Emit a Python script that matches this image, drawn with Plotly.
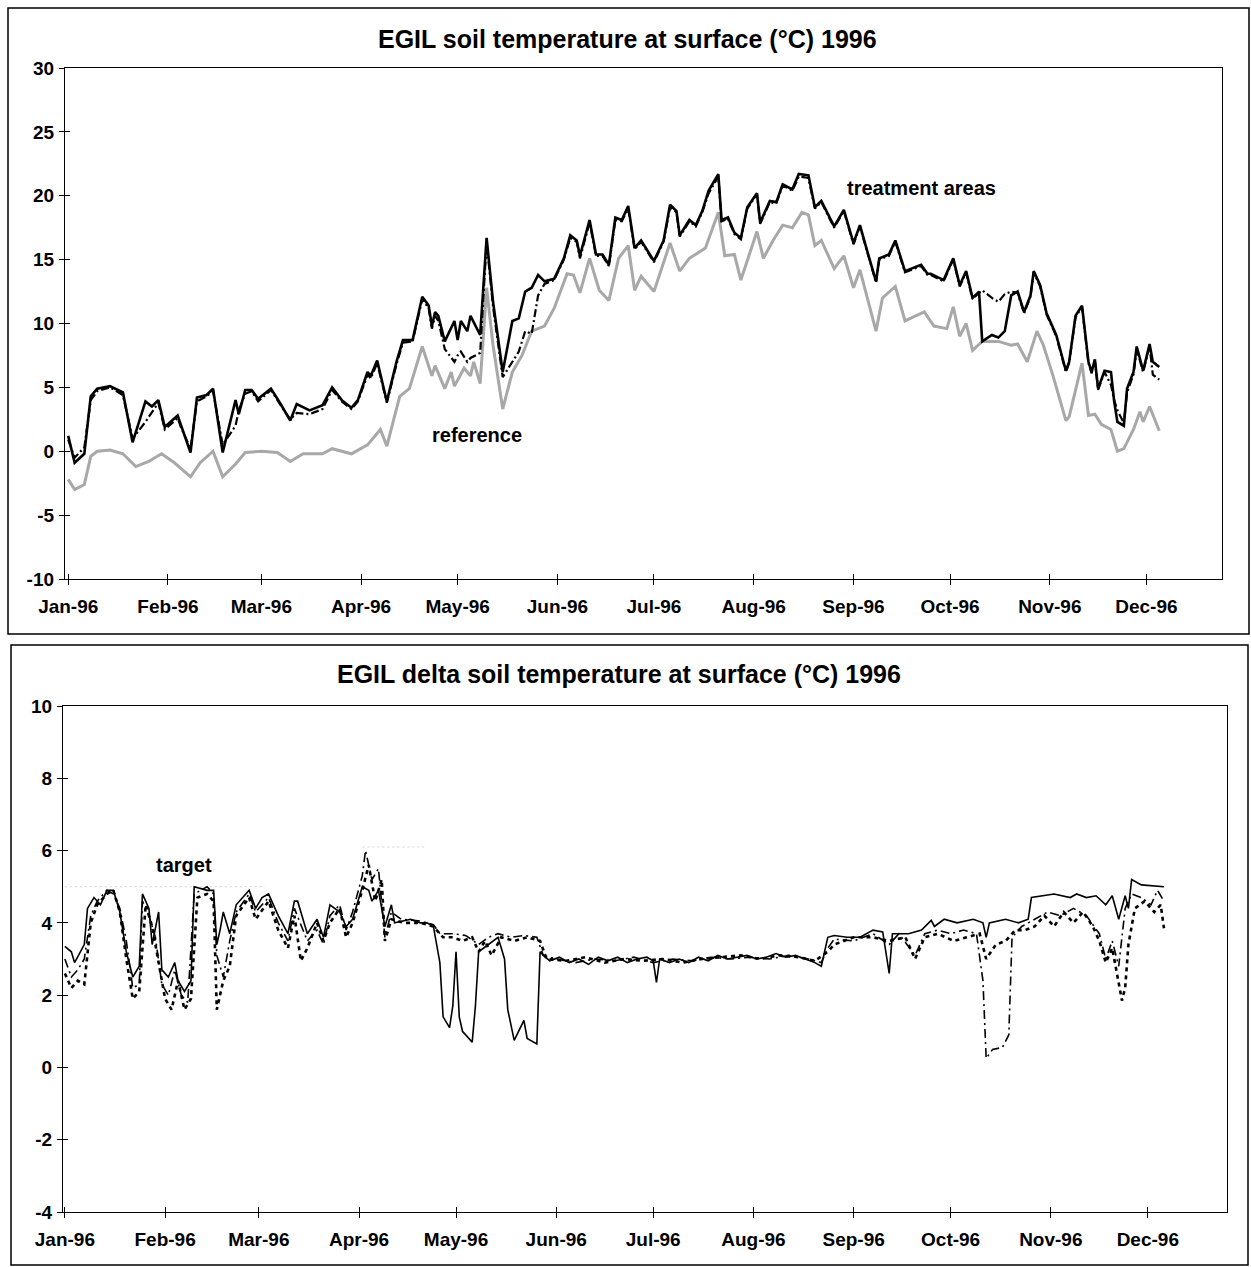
import pandas as pd
import plotly.graph_objects as go

W, H = 1251, 1267
BASE = pd.Timestamp("1996-01-01")

MONTH_TICKS = ["1996-%02d-01" % m for m in range(1, 13)]
MONTH_LABELS = ["Jan-96", "Feb-96", "Mar-96", "Apr-96", "May-96", "Jun-96",
                "Jul-96", "Aug-96", "Sep-96", "Oct-96", "Nov-96", "Dec-96"]
TOP_YTICKS = [-10, -5, 0, 5, 10, 15, 20, 25, 30]
BOT_YTICKS = [-4, -2, 0, 2, 4, 6, 8, 10]

# ---------------- top chart: soil temperature (deg C), day-of-year offsets ----------------
TOP_DAYS = [0, 2, 5, 7, 9, 13, 17, 20, 24, 26, 28, 30, 34, 35, 38, 40, 43, 45, 48, 52,
            53, 55, 57, 59, 63, 66, 69, 71, 75, 79, 82, 85, 88, 90, 93, 94, 96, 99, 102, 104,
            107, 110, 112, 113, 114, 115, 117, 120, 121, 122, 124, 125, 128, 130, 132, 135, 138, 140, 142, 144,
            146, 148, 151, 154, 156, 158, 159, 162, 164, 166, 168, 170, 172, 174, 176, 178, 182, 185, 187, 189,
            190, 193, 195, 197, 199, 202, 203, 205, 207, 209, 211, 214, 215, 218, 220, 222, 225, 227, 230, 232,
            234, 238, 241, 244, 246, 248, 251, 252, 255, 257, 260, 265, 267, 268, 272, 275, 277, 279, 281, 283,
            284, 287, 289, 291, 293, 295, 297, 299, 300, 302, 304, 307, 310, 311, 313, 315, 317, 318, 319, 320,
            322, 324, 325, 326, 328, 329, 331, 332, 334, 336, 337, 339]
TOP_TREAT_A = [1.2, -0.9, -0.2, 4.3, 4.9, 5.1, 4.6, 0.7, 3.9, 3.5, 4.0, 1.9, 2.8, 2.1, -0.1, 4.2, 4.4, 4.9, -0.1, 4.0,
               2.9, 4.8, 4.8, 4.1, 4.9, 3.7, 2.4, 3.7, 3.2, 3.6, 5.0, 4.0, 3.4, 4.0, 6.2, 5.9, 7.1, 3.9, 7.0, 8.7,
               8.7, 12.1, 11.4, 9.8, 10.9, 10.6, 8.6, 10.2, 8.7, 10.2, 9.4, 10.6, 9.1, 16.7, 11.7, 6.2, 10.2, 10.4, 12.5, 12.8,
               13.8, 13.3, 13.5, 15.1, 16.9, 16.5, 15.3, 18.1, 15.4, 15.4, 14.6, 18.3, 18.1, 19.2, 15.9, 16.5, 14.9, 16.5, 19.3, 18.8,
               16.9, 18.1, 17.7, 18.8, 20.4, 21.7, 18.1, 18.3, 17.1, 16.7, 19.1, 20.2, 17.9, 19.6, 19.5, 20.9, 20.5, 21.7, 21.6, 19.1,
               19.6, 17.6, 18.9, 16.3, 17.7, 15.9, 13.3, 15.1, 15.4, 16.5, 14.1, 14.6, 13.9, 13.9, 13.4, 15.1, 13.0, 14.1, 12.0, 12.5,
               8.6, 9.1, 8.9, 9.4, 12.2, 12.5, 10.9, 12.2, 14.1, 13.0, 10.8, 9.1, 6.3, 7.0, 10.6, 11.4, 7.0, 6.2, 7.2, 4.9,
               6.3, 6.2, 3.9, 2.3, 2.0, 4.9, 6.2, 8.2, 6.3, 8.4, 7.0, 6.6]
TOP_TREAT_B = [0.9, -0.5, 0.3, 4.0, 4.7, 5.0, 4.4, 1.0, 2.3, 3.0, 3.8, 1.7, 2.6, 1.9, 0.2, 3.9, 4.3, 4.7, 0.5, 2.0,
               3.2, 4.5, 4.7, 3.9, 4.8, 3.6, 2.5, 3.0, 2.9, 3.3, 4.8, 3.9, 3.3, 3.9, 6.0, 5.7, 6.9, 3.8, 6.8, 8.5,
               8.6, 11.9, 11.2, 9.6, 10.6, 10.2, 8.0, 7.0, 7.5, 7.8, 7.0, 7.3, 7.7, 16.4, 11.3, 5.8, 7.0, 7.8, 9.4, 9.2,
               12.2, 13.1, 13.4, 15.0, 16.7, 16.4, 15.1, 17.9, 15.3, 15.3, 14.5, 18.1, 18.0, 19.0, 15.8, 16.4, 14.8, 16.4, 19.1, 18.7,
               16.8, 18.0, 17.6, 18.7, 20.2, 21.5, 18.0, 18.2, 17.0, 16.6, 19.0, 20.1, 17.8, 19.5, 19.4, 20.8, 20.4, 21.5, 21.4, 19.0,
               19.5, 17.5, 18.8, 16.2, 17.6, 15.8, 13.2, 15.0, 15.3, 16.4, 14.0, 14.5, 13.8, 13.8, 13.3, 15.0, 12.9, 14.0, 11.9, 12.4,
               12.6, 12.0, 11.7, 12.3, 12.5, 12.4, 10.8, 12.1, 14.0, 12.9, 10.7, 9.0, 6.2, 6.9, 10.5, 11.3, 6.9, 6.1, 7.1, 4.8,
               6.2, 5.2, 4.0, 3.2, 2.2, 4.6, 6.0, 8.0, 6.2, 8.2, 6.0, 5.6]

REF_DAYS = [0, 2, 5, 7, 9, 13, 17, 21, 25, 29, 33, 38, 41, 45, 48, 52, 55, 60, 65, 69,
            73, 79, 82, 88, 93, 97, 99, 103, 106, 110, 113, 114, 117, 119, 120, 123, 125, 126, 128, 130,
            132, 135, 138, 141, 144, 148, 151, 155, 157, 159, 162, 165, 168, 171, 174, 176, 178, 182, 187, 190,
            193, 198, 202, 204, 207, 209, 214, 216, 219, 222, 225, 228, 230, 232, 234, 238, 241, 244, 246, 248,
            251, 253, 257, 260, 266, 269, 273, 275, 277, 279, 281, 284, 289, 293, 295, 298, 301, 303, 306, 310,
            311, 315, 317, 319, 321, 324, 326, 328, 331, 333, 334, 336, 338, 339]
REF_VALS = [-2.2, -3.0, -2.6, -0.4, 0.0, 0.1, -0.2, -1.2, -0.8, -0.2, -0.9, -2.0, -0.9, 0.0, -2.0, -1.0, -0.1, 0.0, -0.1, -0.8,
            -0.2, -0.2, 0.2, -0.2, 0.5, 1.7, 0.4, 4.3, 4.9, 8.2, 5.9, 6.7, 4.9, 6.2, 5.1, 6.5, 5.9, 7.0, 5.3, 12.8,
            8.3, 3.3, 6.2, 7.5, 9.4, 9.8, 11.2, 13.9, 13.8, 12.4, 15.1, 12.6, 11.8, 15.1, 16.1, 12.6, 13.7, 12.5, 16.3, 14.1,
            15.1, 15.9, 18.7, 15.3, 15.4, 13.4, 17.2, 15.1, 16.5, 17.7, 17.5, 18.7, 18.5, 16.1, 16.5, 14.3, 15.3, 12.8, 14.2, 12.2,
            9.4, 12.0, 12.9, 10.2, 10.9, 9.8, 9.6, 11.3, 9.0, 10.0, 7.9, 8.6, 8.6, 8.3, 8.4, 7.0, 9.4, 8.3, 5.9, 2.4,
            2.7, 6.9, 2.8, 2.9, 2.1, 1.7, 0.0, 0.2, 1.7, 3.1, 2.3, 3.5, 2.3, 1.6]

# ---------------- bottom chart: delta soil temperature ----------------
DA_DAYS = [0, 2, 3, 6, 7, 9, 11, 13, 15, 17, 19, 21, 23, 24, 26, 27, 29, 30, 32, 34,
           35, 37, 39, 40, 44, 46, 47, 48, 49, 51, 53, 57, 59, 61, 63, 66, 69, 71, 72, 75,
           78, 80, 82, 85, 87, 89, 92, 94, 95, 97, 99, 101, 102, 107, 110, 112, 114, 116, 117, 119,
           120, 121, 122, 123, 126, 127, 128, 131, 134, 136, 137, 139, 142, 143, 146, 147, 148, 150, 153, 156,
           159, 162, 165, 168, 171, 174, 177, 180, 182, 183, 184, 187, 190, 193, 196, 199, 202, 205, 208, 211,
           214, 217, 220, 223, 226, 229, 232, 234, 236, 238, 242, 246, 250, 253, 255, 256, 261, 265, 268, 269,
           272, 276, 281, 284, 285, 286, 291, 295, 298, 299, 306, 311, 313, 316, 319, 322, 324, 326, 328, 329,
           330, 333, 340]
DA_VALS = [3.35, 3.2, 2.9, 3.4, 4.4, 4.7, 4.5, 4.9, 4.9, 4.3, 3.2, 2.5, 2.8, 4.8, 4.4, 3.4, 4.3, 2.7, 2.5, 2.9,
           2.4, 2.1, 2.4, 5.0, 4.9, 4.9, 3.4, 3.8, 4.3, 3.7, 4.5, 4.9, 4.4, 4.7, 4.8, 4.2, 3.7, 4.6, 4.6, 3.7,
           4.1, 3.6, 4.5, 4.3, 3.9, 4.1, 5.0, 4.9, 4.6, 4.9, 3.9, 4.5, 4.0, 4.1, 4.0, 4.0, 3.9, 2.9, 1.4, 1.1,
           1.7, 3.2, 1.4, 1.0, 0.7, 1.7, 3.2, 3.4, 3.6, 3.0, 1.6, 0.75, 1.3, 0.8, 0.65, 3.2, 3.1, 2.95, 3.05, 2.9,
           3.0, 2.85, 3.05, 2.95, 3.05, 2.9, 3.0, 3.05, 2.95, 2.35, 3.0, 2.9, 3.0, 2.9, 3.05, 2.95, 3.1, 3.0, 3.05, 3.1,
           3.0, 3.05, 3.15, 3.05, 3.1, 3.0, 2.9, 2.8, 3.6, 3.65, 3.6, 3.6, 3.8, 3.75, 2.6, 3.7, 3.7, 3.8, 4.07, 3.9,
           4.1, 4.0, 4.1, 4.0, 3.6, 4.0, 4.1, 4.0, 4.1, 4.7, 4.8, 4.7, 4.8, 4.7, 4.75, 4.5, 4.75, 4.1, 4.75, 4.4,
           5.2, 5.05, 5.0]

DB_DAYS = [0, 2, 4, 6, 8, 10, 13, 15, 17, 19, 21, 23, 24, 26, 28, 30, 32, 34, 36, 38,
           40, 44, 46, 47, 49, 51, 53, 57, 59, 63, 66, 69, 71, 75, 78, 80, 82, 85, 87, 89,
           92, 93, 95, 97, 99, 101, 104, 110, 114, 116, 120, 124, 128, 131, 134, 138, 142, 146, 148, 152,
           158, 164, 170, 176, 182, 188, 194, 200, 206, 212, 218, 224, 230, 234, 236, 238, 244, 250, 255, 258,
           263, 266, 270, 274, 278, 282, 284, 285, 287, 290, 292, 293, 296, 300, 304, 308, 312, 316, 320, 322,
           324, 326, 328, 330, 333, 336, 338, 340]
DB_VALS = [3.0, 2.5, 2.7, 3.0, 4.2, 4.6, 4.9, 4.8, 4.4, 3.5, 2.2, 2.3, 4.6, 4.2, 3.6, 2.3, 2.0, 2.7, 2.0, 1.8,
           4.8, 5.0, 4.8, 3.1, 2.5, 3.5, 4.3, 4.8, 4.3, 4.7, 4.0, 3.5, 4.4, 3.5, 3.8, 3.4, 4.2, 4.5, 3.8, 4.3,
           5.3, 6.0, 5.2, 5.5, 3.6, 4.3, 4.1, 4.05, 3.95, 3.7, 3.7, 3.65, 3.4, 3.6, 3.7, 3.6, 3.65, 3.6, 3.1, 3.0,
           2.9, 3.0, 2.95, 3.05, 2.9, 3.0, 2.95, 3.05, 3.0, 3.05, 3.0, 3.1, 3.0, 2.9, 3.3, 3.55, 3.5, 3.7, 3.4, 3.7,
           3.1, 3.7, 3.8, 3.7, 3.8, 3.7, 2.4, 0.25, 0.5, 0.55, 0.9, 3.6, 3.9, 4.1, 4.3, 4.2, 4.4, 4.2, 3.7, 3.0,
           3.5, 2.8, 4.4, 4.8, 4.7, 4.5, 4.9, 4.6]

DC_DAYS = [0, 2, 4, 6, 8, 10, 13, 15, 17, 19, 21, 23, 25, 27, 29, 31, 33, 35, 37, 39,
           41, 44, 46, 47, 49, 51, 53, 57, 59, 63, 66, 69, 71, 73, 75, 78, 80, 82, 85, 87,
           89, 92, 94, 96, 98, 99, 101, 105, 110, 114, 117, 120, 123, 126, 128, 130, 132, 135, 139, 143,
           147, 149, 155, 161, 167, 173, 179, 185, 191, 197, 203, 209, 215, 221, 227, 232, 236, 238, 244, 250,
           255, 260, 263, 266, 270, 275, 279, 283, 285, 288, 291, 294, 297, 300, 303, 306, 309, 312, 315, 318,
           320, 322, 324, 326, 327, 328, 329, 331, 334, 337, 339, 340]
DC_VALS = [2.6, 2.2, 2.4, 2.3, 4.0, 4.5, 4.8, 4.9, 4.3, 3.0, 1.9, 2.1, 4.5, 3.9, 2.9, 1.9, 1.6, 2.4, 1.6, 1.9,
           4.7, 4.8, 4.6, 1.6, 2.4, 2.8, 4.2, 4.7, 4.1, 4.6, 3.8, 3.3, 4.2, 2.95, 3.3, 4.0, 3.5, 4.0, 4.4, 3.6,
           4.0, 4.9, 5.6, 4.6, 5.2, 3.5, 4.1, 4.0, 4.0, 3.9, 3.6, 3.6, 3.5, 3.6, 3.2, 3.5, 3.1, 3.6, 3.5, 3.6,
           3.5, 3.0, 2.95, 3.05, 2.9, 3.0, 2.95, 3.0, 2.9, 3.0, 3.05, 3.1, 3.0, 3.1, 3.05, 2.95, 3.2, 3.4, 3.6, 3.6,
           3.5, 3.6, 3.0, 3.6, 3.7, 3.5, 3.6, 3.7, 3.0, 3.4, 3.5, 3.8, 3.8, 3.9, 4.2, 3.9, 4.3, 4.0, 4.3, 3.9,
           3.5, 2.9, 3.3, 2.4, 1.85, 2.2, 3.4, 4.4, 4.6, 4.3, 4.5, 3.85]

TARGET_DAYS = [0, 62, None, 92, 112]
TARGET_VALS = [5.0, 5.0, None, 6.1, 6.1]


def to_dates(days):
    return [None if d is None else BASE + pd.Timedelta(days=d) for d in days]


FONT = "Liberation Sans, Arial, sans-serif"
fig = go.Figure()

# top chart traces
fig.add_trace(go.Scatter(x=to_dates(REF_DAYS), y=REF_VALS, mode="lines",
                         line=dict(color="#a8a8a8", width=3), xaxis="x", yaxis="y", showlegend=False))
fig.add_trace(go.Scatter(x=to_dates(TOP_DAYS), y=TOP_TREAT_B, mode="lines",
                         line=dict(color="black", width=2.2, dash="8px,3px,2px,3px"),
                         xaxis="x", yaxis="y", showlegend=False))
fig.add_trace(go.Scatter(x=to_dates(TOP_DAYS), y=TOP_TREAT_A, mode="lines",
                         line=dict(color="black", width=2.6), xaxis="x", yaxis="y", showlegend=False))

# bottom chart traces
fig.add_trace(go.Scatter(x=to_dates(TARGET_DAYS), y=TARGET_VALS, mode="lines", connectgaps=False,
                         line=dict(color="#d4d4d4", width=1, dash="2px,3px"),
                         xaxis="x2", yaxis="y2", showlegend=False))
fig.add_trace(go.Scatter(x=to_dates(DC_DAYS), y=DC_VALS, mode="lines",
                         line=dict(color="black", width=2.6, dash="4px,4px"),
                         xaxis="x2", yaxis="y2", showlegend=False))
fig.add_trace(go.Scatter(x=to_dates(DB_DAYS), y=DB_VALS, mode="lines",
                         line=dict(color="black", width=1.6, dash="9px,4px,2px,4px"),
                         xaxis="x2", yaxis="y2", showlegend=False))
fig.add_trace(go.Scatter(x=to_dates(DA_DAYS), y=DA_VALS, mode="lines",
                         line=dict(color="black", width=1.6), xaxis="x2", yaxis="y2", showlegend=False))


def px_x(p):
    return p / W


def px_y(p):
    return 1 - p / H


tickfont = dict(family=FONT, size=19, color="black", weight="bold")
common_x = dict(type="date", tickvals=MONTH_TICKS, ticktext=MONTH_LABELS, ticks="outside",
                ticklen=5, tickwidth=1.2, tickcolor="black", showline=True, linecolor="black",
                linewidth=1.3, mirror=True, showgrid=False, zeroline=False, tickfont=tickfont,
                ticklabelstandoff=5, automargin=False)
common_y = dict(ticks="outside", ticklen=5, tickwidth=1.2, tickcolor="black", showline=True,
                linecolor="black", linewidth=1.3, mirror=True, showgrid=False, zeroline=False,
                tickfont=tickfont, ticklabelstandoff=1, automargin=False)
inner_x = dict(type="date", tickvals=MONTH_TICKS, ticks="inside", ticklen=5, tickwidth=1.2,
               tickcolor="black", showticklabels=False, showline=False, showgrid=False,
               zeroline=False, automargin=False)
inner_y = dict(ticks="inside", ticklen=5, tickwidth=1.2, tickcolor="black", showticklabels=False,
               showline=False, showgrid=False, zeroline=False, automargin=False)

TOP_XRANGE = ["1995-12-31", "1996-12-24 12:00"]
BOT_XRANGE = ["1995-12-31 10:00", "1996-12-25 12:00"]

fig.update_layout(
    template="none",
    width=W, height=H, margin=dict(l=0, r=0, t=0, b=0, pad=0),
    paper_bgcolor="white", plot_bgcolor="white",
    xaxis=dict(domain=[px_x(65), px_x(1222)], anchor="y", range=TOP_XRANGE, **common_x),
    yaxis=dict(domain=[px_y(579), px_y(68)], anchor="x", range=[-10, 30],
               tickvals=TOP_YTICKS, ticktext=[str(v) for v in TOP_YTICKS], **common_y),
    xaxis2=dict(domain=[px_x(63), px_x(1227)], anchor="y2", range=BOT_XRANGE, **common_x),
    yaxis2=dict(domain=[px_y(1212), px_y(706)], anchor="x2", range=[-4, 10],
                tickvals=BOT_YTICKS, ticktext=[str(v) for v in BOT_YTICKS], **common_y),
    xaxis3=dict(overlaying="x", anchor="y", side="bottom", range=TOP_XRANGE, **inner_x),
    yaxis3=dict(overlaying="y", anchor="x", side="left", range=[-10, 30],
                tickvals=TOP_YTICKS, **inner_y),
    xaxis4=dict(overlaying="x2", anchor="y2", side="bottom", range=BOT_XRANGE, **inner_x),
    yaxis4=dict(overlaying="y2", anchor="x2", side="left", range=[-4, 10],
                tickvals=BOT_YTICKS, **inner_y),
)

# invisible traces so that the inner-tick axes are drawn
fig.add_trace(go.Scatter(x=[], y=[], xaxis="x3", yaxis="y3", showlegend=False, hoverinfo="skip"))
fig.add_trace(go.Scatter(x=[], y=[], xaxis="x4", yaxis="y4", showlegend=False, hoverinfo="skip"))

# panel frames
fig.add_shape(type="rect", xref="paper", yref="paper", x0=px_x(8), x1=px_x(1249),
              y0=px_y(634), y1=px_y(8), line=dict(color="black", width=1.5))
fig.add_shape(type="rect", xref="paper", yref="paper", x0=px_x(11), x1=px_x(1248),
              y0=px_y(1265), y1=px_y(645), line=dict(color="black", width=1.5))

titlefont = dict(family=FONT, size=25, color="black", weight="bold")
labfont = dict(family=FONT, size=20, color="black", weight="bold")
fig.add_annotation(text="EGIL soil temperature at surface (°C) 1996", xref="paper", yref="paper",
                   x=px_x(628), y=px_y(39), xanchor="center", yanchor="middle",
                   showarrow=False, font=titlefont)
fig.add_annotation(text="EGIL delta soil temperature at surface (°C) 1996", xref="paper", yref="paper",
                   x=px_x(619), y=px_y(674), xanchor="center", yanchor="middle",
                   showarrow=False, font=titlefont)
fig.add_annotation(text="treatment areas", x="1996-09-22", y=20.6, xref="x", yref="y",
                   showarrow=False, font=labfont)
fig.add_annotation(text="reference", x="1996-05-07", y=1.3, xref="x", yref="y",
                   showarrow=False, font=labfont)
fig.add_annotation(text="target", x="1996-02-07", y=5.6, xref="x2", yref="y2",
                   showarrow=False, font=labfont)

fig.write_html("out.html")
